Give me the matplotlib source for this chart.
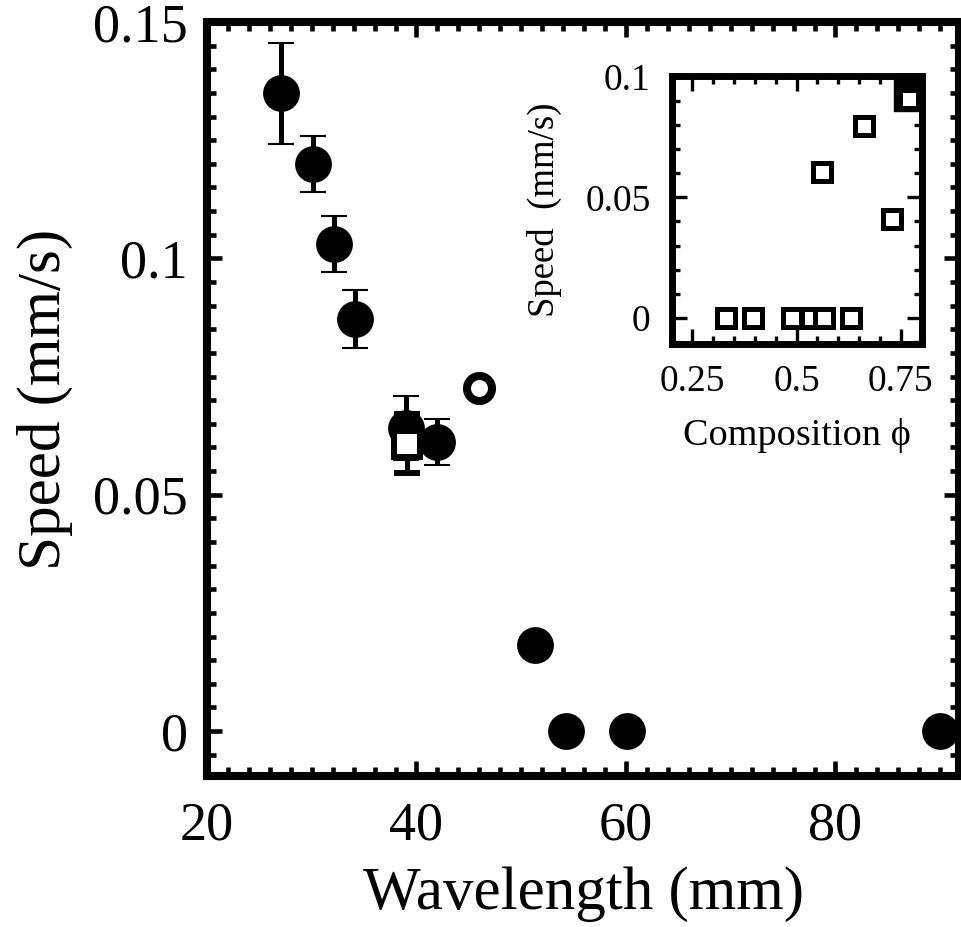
import matplotlib
matplotlib.use('Agg')
import matplotlib.pyplot as plt
from matplotlib.ticker import MultipleLocator, FuncFormatter

plt.rcParams['font.family'] = ['Liberation Serif', 'DejaVu Serif']

## data
# filled circles with error bars
wl_err = [27.1, 30.1, 32.1, 34.1, 39.0, 42.0]
speed_err = [0.1349, 0.1200, 0.1031, 0.0872, 0.0641, 0.0611]
speed_err_bar = [0.0107, 0.0059, 0.0059, 0.0062, 0.0067, 0.0049]

# filled circles, no error bars
wl_fill = [51.3, 54.3, 60.1, 90.0]
speed_fill = [0.0182, 0.0, 0.0, 0.0]

# open square
wl_sq = [39.1]
speed_sq = [0.0608]
speed_sq_bar = [0.0063]

# open circle
wl_oc = [46.0]
speed_oc = [0.0725]

# inset: speed vs composition
comp = [0.33, 0.395, 0.49, 0.535, 0.565, 0.63, 0.56, 0.663, 0.728, 0.77]
comp_speed = [0.0, 0.0, 0.0, 0.0, 0.0, 0.0, 0.0603, 0.0796, 0.041, 0.0906]
comp_blob = [0.777]
comp_blob_speed = [0.0932]

fmt = FuncFormatter(lambda v, p: '%g' % round(v, 4))

## figure
fig = plt.figure(figsize=(9.61, 9.27), dpi=100)
ax = fig.add_axes([0.2154, 0.1629, 0.7826, 0.8134])

ax.errorbar(wl_err, speed_err, yerr=speed_err_bar, fmt='o', ms=25, color='black',
            mec='black', mew=1.5, elinewidth=3.6, capsize=9.5, capthick=3.6, zorder=2)
ax.plot(wl_fill, speed_fill, 'o', ms=25, color='black', mec='black', mew=1.5, zorder=2)
ax.errorbar(wl_sq, speed_sq, yerr=speed_sq_bar, fmt='s', ms=18.5, mfc='white', mec='black',
            mew=4.3, ecolor='black', elinewidth=3.6, capsize=9.5, capthick=3.6, zorder=3)
ax.plot(wl_oc, speed_oc, 'o', ms=18, mfc='white', mec='black', mew=5.8, zorder=3)

ax.set_xlim(20, 91.8)
ax.set_ylim(-0.0095, 0.15)
ax.set_xticks([20, 40, 60, 80])
ax.xaxis.set_minor_locator(MultipleLocator(2))
ax.yaxis.set_major_locator(MultipleLocator(0.05))
ax.yaxis.set_minor_locator(MultipleLocator(0.005))
ax.yaxis.set_major_formatter(fmt)

for s in ax.spines.values():
    s.set_linewidth(5.8)
ax.tick_params(which='both', direction='in', top=True, right=True, width=3.3)
ax.tick_params(which='major', length=10.5, labelsize=39)
ax.tick_params(which='minor', length=6.2)
ax.tick_params(axis='x', which='major', pad=18)
ax.tick_params(axis='y', which='major', pad=14)

ax.set_xlabel('Wavelength (mm)', fontsize=44)
ax.set_ylabel('Speed (mm/s)', fontsize=44)
ax.xaxis.set_label_coords(0.5, -0.119)
ax.yaxis.set_label_coords(-0.178, 0.5)

## inset
ins = fig.add_axes([0.6988, 0.6294, 0.2601, 0.2881])
ins.plot(comp_blob, comp_blob_speed, 's', ms=26, color='black', zorder=2)
ins.plot(comp, comp_speed, 's', ms=13, mfc='white', mec='black', mew=3.6, zorder=3)

ins.set_xlim(0.2, 0.8)
ins.set_ylim(-0.0105, 0.1)
ins.set_xticks([0.25, 0.5, 0.75])
ins.xaxis.set_minor_locator(MultipleLocator(0.05))
ins.yaxis.set_major_locator(MultipleLocator(0.05))
ins.yaxis.set_minor_locator(MultipleLocator(0.01))
ins.xaxis.set_major_formatter(fmt)
ins.yaxis.set_major_formatter(fmt)

for s in ins.spines.values():
    s.set_linewidth(5)
ins.tick_params(which='both', direction='in', top=True, right=True, width=2.4)
ins.tick_params(which='major', length=11, labelsize=27, pad=15)
ins.tick_params(which='minor', length=5.5)

ins.set_xlabel('Composition \u03d5', fontsize=27.5)
ins.set_ylabel('Speed  (mm/s)', fontsize=26.5)
ins.xaxis.set_label_coords(0.5, -0.28)
ins.yaxis.set_label_coords(-0.44, 0.5)

plt.savefig('out.png', dpi=100)
